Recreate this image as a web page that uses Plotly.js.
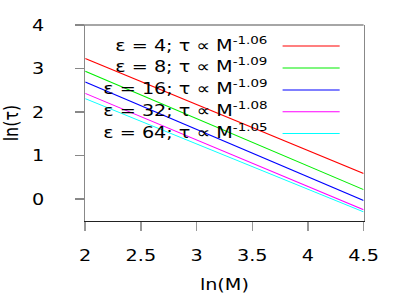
<!DOCTYPE html>
<html><head><meta charset="utf-8">
<script src="https://cdn.plot.ly/plotly-3.0.1.min.js"></script>
<style>
html,body{margin:0;padding:0;background:#fff}
#wrap{width:398px;height:299px;overflow:hidden;position:relative}
#c{width:332px;height:299px;transform:scaleX(1.2);transform-origin:0 0}
</style>
</head><body><div id="wrap"><div id="c"></div></div>
<script>
const xEnds = [2, 4.5];
const eps = [4, 8, 16, 32, 64];
const exponents = ["-1.06", "-1.09", "-1.09", "-1.08", "-1.05"];
const yRed = [3.23, 0.59];
const yGreen = [2.94, 0.22];
const yBlue = [2.69, -0.03];
const yMagenta = [2.43, -0.24];
const yCyan = [2.31, -0.29];
const seriesY = [yRed, yGreen, yBlue, yMagenta, yCyan];
const colors = ["#ff0000", "#00ee00", "#0000ff", "#ff00ff", "#00ffff"];

const font = "DejaVu Sans, sans-serif";
const FS = 16;
const traces = seriesY.map((y, i) => ({
  x: xEnds, y: y, mode: "lines", type: "scatter",
  line: {color: colors[i], width: 1}, showlegend: false, hoverinfo: "skip"
}));

const rowY = [0.903, 0.791, 0.679, 0.567, 0.457];
const annotations = eps.map((e, i) => ({
  xref: "paper", yref: "paper", x: 0.665, y: rowY[i], xanchor: "right", yanchor: "middle",
  showarrow: false, text: "ε = " + e + "; τ ∝ M<sup>" + exponents[i] + "</sup>",
  font: {family: font, size: FS, color: "#000"}
}));
const shapes = eps.map((e, i) => ({
  type: "line", xref: "paper", yref: "paper", x0: 0.709, x1: 0.914, y0: rowY[i] - 0.01, y1: rowY[i] - 0.01,
  line: {color: colors[i], width: 1}
}));
shapes.push({type: "line", xref: "paper", yref: "paper", x0: -0.032, x1: 1, y0: 1, y1: 1,
  line: {color: "#888", width: 1.5}});

const layout = {
  width: 332, height: 299,
  margin: {l: 71, r: 29, t: 25, b: 78},
  paper_bgcolor: "#fff", plot_bgcolor: "#fff",
  font: {family: font, size: FS, color: "#000"},
  xaxis: {range: [2, 4.5], tickvals: [2, 2.5, 3, 3.5, 4, 4.5], ticktext: ["2", "2.5", "3", "3.5", "4", "4.5"],
    showgrid: false, zeroline: false, showline: true, linecolor: "#222", linewidth: 1,
    ticks: "outside", ticklen: 9, tickcolor: "#999", tickwidth: 1.2, ticklabelstandoff: 11,
    tickfont: {family: font, size: FS, color: "#000"},
    title: {text: "ln(M)", font: {family: font, size: FS, color: "#000"}, standoff: 14}},
  yaxis: {range: [-0.5, 4], tickvals: [0, 1, 2, 3, 4], ticktext: ["0", "1", "2", "3", "4"],
    showgrid: false, zeroline: false, showline: true, mirror: true, linecolor: "#888", linewidth: 1.4,
    ticks: "outside", ticklen: 7.5, tickcolor: "#888", tickwidth: 1.5, ticklabelstandoff: 22,
    tickfont: {family: font, size: FS, color: "#000"},
    title: {text: "ln(τ)", font: {family: font, size: FS, color: "#000"}, standoff: 8}},
  annotations: annotations, shapes: shapes, showlegend: false
};
Plotly.newPlot("c", traces, layout, {displayModeBar: false, staticPlot: true});
</script></body></html>
